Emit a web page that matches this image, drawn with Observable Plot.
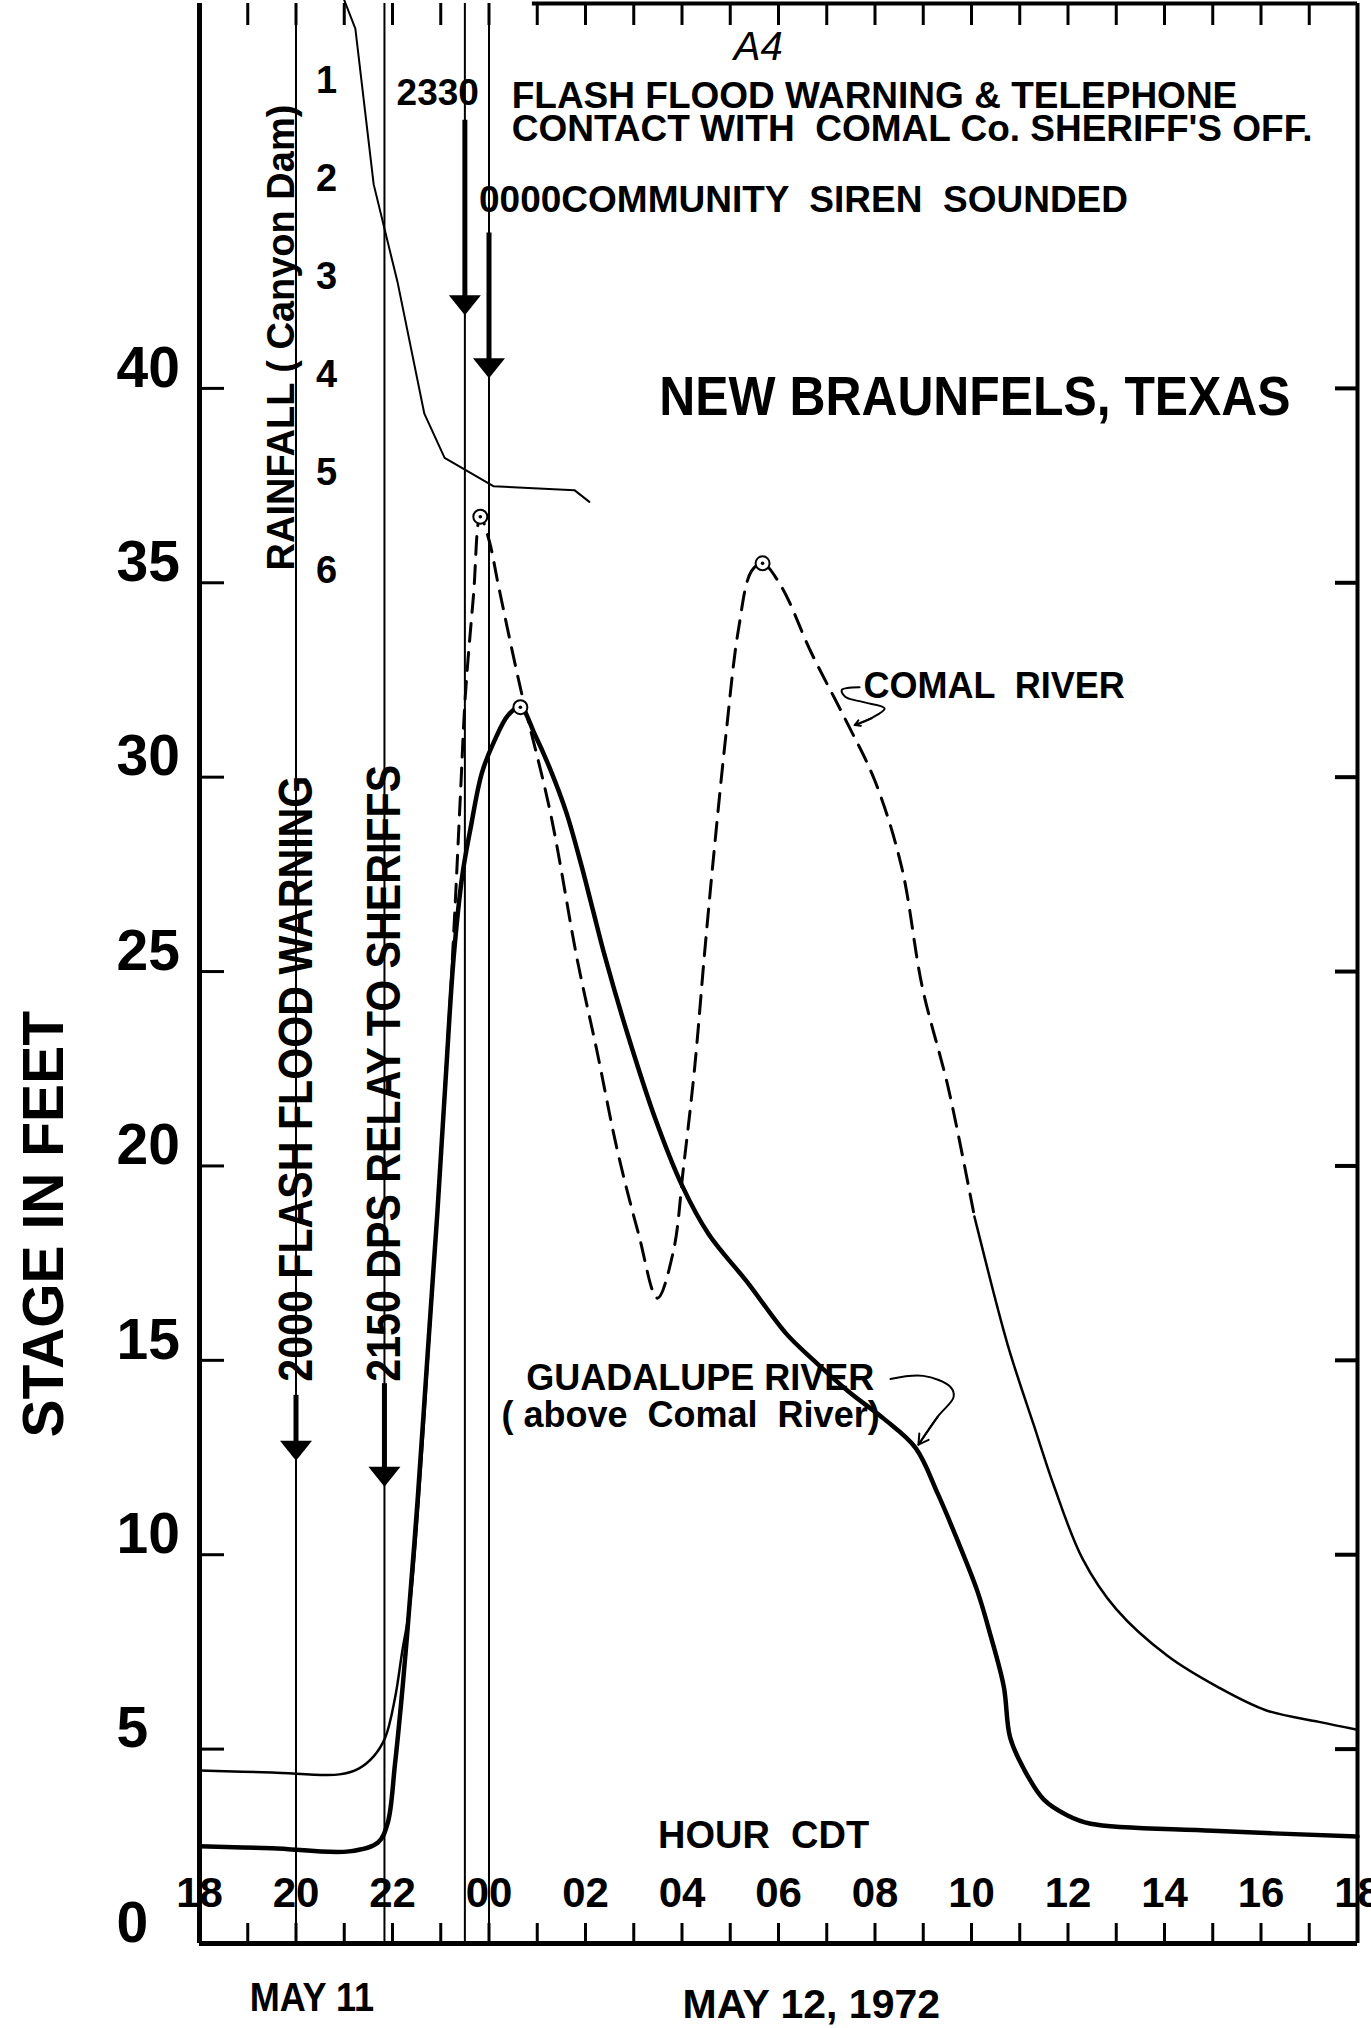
<!DOCTYPE html>
<html>
<head>
<meta charset="utf-8">
<script src="https://cdn.jsdelivr.net/npm/d3@7"></script>
<script src="https://cdn.jsdelivr.net/npm/@observablehq/plot@0.6"></script>
<style>
  html, body { margin: 0; padding: 0; background: #fff; }
  #chart { position: relative; width: 1371px; height: 2028px; overflow: hidden; background: #fff; }
  #chart svg { position: absolute; left: 0; top: 0; }
  #chart svg text { white-space: pre; }
</style>
</head>
<body>
<div id="chart"></div>
<script>
// x values: hours after 18:00 CDT, May 11 1972  (0 = 18, 6 = 00 May 12, 24 = 18 May 12)
// y values: stage in feet (rainfall in inches)

const guadalupe = [
  [0, 2.5], [1.5, 2.45], [3.1, 2.37], [3.7, 2.6], [3.9, 3.1], [4.05, 4.6], [4.18, 6.2], [4.3, 7.9],
  [4.52, 11.4], [4.73, 15.2], [4.93, 18.8], [5.1, 22.2], [5.27, 25.4], [5.45, 27.5], [5.62, 28.7],
  [5.85, 30.1], [6.1, 30.9], [6.4, 31.6], [6.65, 31.8], [6.95, 31.1], [7.27, 30.2], [7.6, 29.1],
  [7.9, 27.8], [8.15, 26.6], [8.4, 25.4], [8.87, 23.4], [9.45, 21.2], [10.0, 19.5], [10.55, 18.25],
  [11.36, 17.0], [12.15, 15.7], [12.73, 15.0], [13.45, 14.2], [14.18, 13.5], [14.84, 12.75],
  [15.3, 11.57], [15.7, 10.4], [16.12, 9.07], [16.4, 7.9], [16.67, 6.6], [16.8, 5.3], [17.08, 4.5],
  [17.5, 3.7], [17.98, 3.3], [18.47, 3.08], [21, 2.9], [24, 2.75]
];

const comalBefore = [
  [0, 4.45], [1.5, 4.4], [2.9, 4.35], [3.3, 4.5], [3.6, 4.8], [3.85, 5.3], [4.05, 6.3], [4.2, 7.5],
  [4.37, 8.8], [4.8, 16.3], [5.24, 25.3]
];

const comalDashed = [
  [5.24, 25.3], [5.31, 27.0], [5.41, 29.6], [5.51, 32.1], [5.68, 34.7], [5.82, 36.7], [6.0, 36.1],
  [6.2, 34.9], [6.65, 32.3], [7.27, 29.1], [7.83, 25.3], [8.23, 23.0], [8.66, 20.4], [9.1, 18.25],
  [9.49, 16.6], [9.82, 17.8], [10.03, 19.95], [10.26, 22.5], [10.47, 25.5], [10.65, 27.9],
  [10.92, 31.2], [11.17, 33.8], [11.44, 35.3], [11.67, 35.5], [12.06, 34.9], [12.68, 33.2],
  [13.38, 31.5], [14.0, 29.9], [14.55, 27.7], [14.98, 24.6], [15.52, 22.0], [16.06, 18.7]
];

const comalAfter = [
  [16.06, 18.7], [16.12, 18.4], [16.75, 15.4], [17.3, 13.3], [17.7, 11.8], [18.3, 9.9], [19.0, 8.6],
  [20.06, 7.4], [21.1, 6.6], [22.1, 6.0], [23.2, 5.7], [24, 5.5]
];

// cumulative rainfall at Canyon Dam (inches)
const rainfall = [
  [3.0, 0.18], [3.23, 0.47], [3.61, 2.06], [4.11, 3.07], [4.66, 4.40], [5.08, 4.85],
  [6.09, 5.14], [7.77, 5.18], [8.08, 5.30]
];

const peaks = [[5.82, 36.7], [11.67, 35.5], [6.65, 31.8]];

// event times: 2000, 2150, 2330, 0000
const eventHours = [2, 3.833, 5.5, 6];
// arrows on event lines: [hour, shaft top stage, tip stage]
const eventArrows = [[2, 14.1, 12.42], [3.833, 14.4, 11.75], [5.5, 46.9, 41.88], [6, 44.0, 40.26]];
const eventTexts = ["2000 FLASH FLOOD WARNING", "2150 DPS RELAY TO SHERIFFS"];
const eventTextHours = [2, 3.833];

const stageTicks = [5, 10, 15, 20, 25, 30, 35, 40];
const stageLabelValues = [0, 5, 10, 15, 20, 25, 30, 35, 40];
const stageLabels = ["0", "5", "10", "15", "20", "25", "30", "35", "40"];
const hourTicks = [1, 2, 3, 4, 5, 6, 7, 8, 9, 10, 11, 12, 13, 14, 15, 16, 17, 18, 19, 20, 21, 22, 23];
const hourLabelValues = [0, 2, 4, 6, 8, 10, 12, 14, 16, 18, 20, 22, 24];
const hourLabels = ["18", "20", "22", "00", "02", "04", "06", "08", "10", "12", "14", "16", "18"];
const rainTicks = [1, 2, 3, 4, 5, 6];

const comalLeader = [[13.68, 32.31], [13.31, 32.24], [13.39, 32.06], [13.76, 31.93], [14.2, 31.77], [13.93, 31.52], [13.58, 31.34]];
const guadLeader = [[14.32, 14.52], [15.0, 14.6], [15.56, 14.32], [15.63, 14.06], [15.3, 13.55], [14.9, 12.83]];

// ---------------- layout ----------------
const W = 1371, H = 2028;
const mL = 199, mR = 14, mT = 3, mB = 85;
const FW = W - mL - mR, FH = H - mT - mB;
const STAGE_TOP = 49.9;
const FONT = "'Liberation Sans', Arial, Helvetica, sans-serif";
const X = d => d[0], Y = d => d[1];

const downHead = {
  draw(ctx, size) {
    const k = Math.sqrt(size / Math.PI);
    ctx.moveTo(0, 0);
    ctx.lineTo(-1.6 * k, -2.0 * k);
    ctx.lineTo(1.6 * k, -2.0 * k);
    ctx.closePath();
  }
};

const note = (h, s, t, opts) => Plot.text([{h, s, t}], {x: d => d.h, y: d => d.s, text: d => d.t, fill: "#000", ...opts});

const main = Plot.plot({
  width: W, height: H,
  marginLeft: mL, marginRight: mR, marginTop: mT, marginBottom: mB,
  x: {domain: [0, 24], axis: null},
  y: {domain: [0, STAGE_TOP], axis: null},
  style: {fontFamily: FONT, background: "transparent", color: "#000"},
  marks: [
    // ticks
    Plot.tickY(stageTicks, {y: d => d, insetRight: FW - 25, strokeWidth: 3}),
    Plot.tickY(stageTicks, {y: d => d, insetLeft: FW - 22, strokeWidth: 4}),
    Plot.tickX(hourTicks, {x: d => d, insetTop: FH - 20, strokeWidth: 3}),
    Plot.tickX(hourTicks, {x: d => d, insetBottom: FH - 22, strokeWidth: 3}),
    // event lines
    Plot.ruleX(eventHours, {x: d => d, strokeWidth: 2}),
    // frame
    Plot.ruleX([0], {x: d => d, strokeWidth: 5}),
    Plot.ruleX([24], {x: d => d, strokeWidth: 4}),
    Plot.ruleY([0], {y: d => d, strokeWidth: 5}),
    Plot.ruleY([STAGE_TOP], {y: d => d, x1: () => 6.9, x2: () => 24, strokeWidth: 4}),
    // rotated event texts
    Plot.text(eventTexts, {x: (d, i) => eventTextHours[i], y: () => 14.45, text: d => d, rotate: -90,
      textAnchor: "start", fontSize: 49, fontWeight: "bold", fill: "#000"}),
    // arrows
    Plot.ruleX(eventArrows, {x: d => d[0], y1: d => d[1], y2: d => d[2] + 0.3, strokeWidth: 5}),
    Plot.dot(eventArrows, {x: d => d[0], y: d => d[2], symbol: downHead, r: 10, fill: "#000", stroke: "none"}),
    // river stages
    Plot.line(comalBefore, {x: X, y: Y, strokeWidth: 2.5, curve: "catmull-rom"}),
    Plot.line(comalAfter, {x: X, y: Y, strokeWidth: 2.5, curve: "catmull-rom"}),
    Plot.line(comalDashed, {x: X, y: Y, strokeWidth: 3, strokeDasharray: "18,11", curve: "catmull-rom"}),
    Plot.line(guadalupe, {x: X, y: Y, strokeWidth: 4.5, curve: "catmull-rom"}),
    Plot.dot(peaks, {x: X, y: Y, r: 7, fill: "#fff", stroke: "#000", strokeWidth: 2}),
    Plot.dot(peaks, {x: X, y: Y, r: 1.8, fill: "#000"}),
    // leaders
    Plot.line(comalLeader, {x: X, y: Y, strokeWidth: 2, curve: "catmull-rom"}),
    Plot.arrow([comalLeader], {x1: d => d[d.length - 2][0], y1: d => d[d.length - 2][1], x2: d => d[d.length - 1][0], y2: d => d[d.length - 1][1], strokeWidth: 2, headLength: 10}),
    Plot.line(guadLeader, {x: X, y: Y, strokeWidth: 2, curve: "catmull-rom"}),
    Plot.arrow([guadLeader], {x1: d => d[d.length - 2][0], y1: d => d[d.length - 2][1], x2: d => d[d.length - 1][0], y2: d => d[d.length - 1][1], strokeWidth: 2, headLength: 10}),
    // axis labels
    Plot.text(stageLabelValues, {y: d => d, text: (d, i) => stageLabels[i], frameAnchor: "left", dx: -83, dy: -20,
      textAnchor: "start", lineAnchor: "middle", fontSize: 57, fontWeight: "bold", fill: "#000"}),
    Plot.text(hourLabelValues, {x: d => d, text: (d, i) => hourLabels[i], frameAnchor: "bottom", dy: -50,
      textAnchor: "middle", lineAnchor: "middle", fontSize: 42, fontWeight: "bold", fill: "#000"}),
    Plot.text(["STAGE IN FEET"], {y: () => 18.5, text: d => d, frameAnchor: "left", dx: -155, rotate: -90,
      textAnchor: "middle", lineAnchor: "middle", fontSize: 57, fontWeight: "bold", fill: "#000"}),
    note(11.69, 2.78, "HOUR  CDT", {fontSize: 38, fontWeight: "bold"}),
    note(1.04, -1.39, "MAY 11", {textAnchor: "start", fontSize: 41, fontWeight: "bold"}),
    note(10.01, -1.59, "MAY 12, 1972", {textAnchor: "start", fontSize: 41, fontWeight: "bold"}),
    note(11.58, 48.77, "A4", {fontSize: 40, fontStyle: "italic"}),
    // annotations
    note(5.5, 47.6, "2330", {textAnchor: "end", dx: 14, fontSize: 37, fontWeight: "bold"}),
    note(6.47, 47.05, "FLASH FLOOD WARNING & TELEPHONE\nCONTACT WITH  COMAL Co. SHERIFF'S OFF.",
      {textAnchor: "start", lineHeight: 0.88, fontSize: 37, fontWeight: "bold"}),
    note(6, 44.83, "0000COMMUNITY  SIREN  SOUNDED", {textAnchor: "start", dx: -10, fontSize: 37, fontWeight: "bold"}),
    note(9.53, 39.77, "NEW BRAUNFELS, TEXAS", {textAnchor: "start", fontSize: 56, fontWeight: "bold"}),
    note(13.76, 32.34, "COMAL  RIVER", {textAnchor: "start", fontSize: 36, fontWeight: "bold"}),
    note(6.77, 14.54, "GUADALUPE RIVER", {textAnchor: "start", fontSize: 36, fontWeight: "bold"}),
    note(6.26, 13.57, "( above  Comal  River)", {textAnchor: "start", fontSize: 36, fontWeight: "bold"})
  ]
});

const rain = Plot.plot({
  width: W, height: H,
  marginLeft: mL, marginRight: mR, marginTop: mT, marginBottom: mB,
  x: {domain: [0, 24], axis: null},
  y: {domain: [0, 6], range: [-18, 570], axis: null},
  style: {fontFamily: FONT, background: "transparent", color: "#000"},
  marks: [
    Plot.line(rainfall, {x: X, y: Y, strokeWidth: 2}),
    Plot.text(rainTicks, {x: () => 2, y: d => d, text: d => String(d), dx: 20, textAnchor: "start",
      fontSize: 38, fontWeight: "bold", fill: "#000"}),
    Plot.text(["RAINFALL ( Canyon Dam)"], {x: () => 2, y: () => 6, text: d => d, dx: -14, rotate: -90,
      textAnchor: "start", fontSize: 38, fontWeight: "bold", fill: "#000"})
  ]
});

const chart = document.getElementById("chart");
chart.appendChild(main);
chart.appendChild(rain);

// condensed lettering (as in the hand-lettered original)
const condense = {
  "2000 FLASH FLOOD WARNING": 0.84,
  "2150 DPS RELAY TO SHERIFFS": 0.84,
  "NEW BRAUNFELS, TEXAS": 0.89,
  "MAY 11": 0.88
};
for (const svg of [main, rain]) {
  svg.querySelectorAll("text").forEach(t => {
    const k = condense[t.textContent];
    if (k) {
      const tr = t.getAttribute("transform") || "";
      t.setAttribute("transform", `${tr} scale(${k},1)`);
    }
  });
}
</script>
</body>
</html>
